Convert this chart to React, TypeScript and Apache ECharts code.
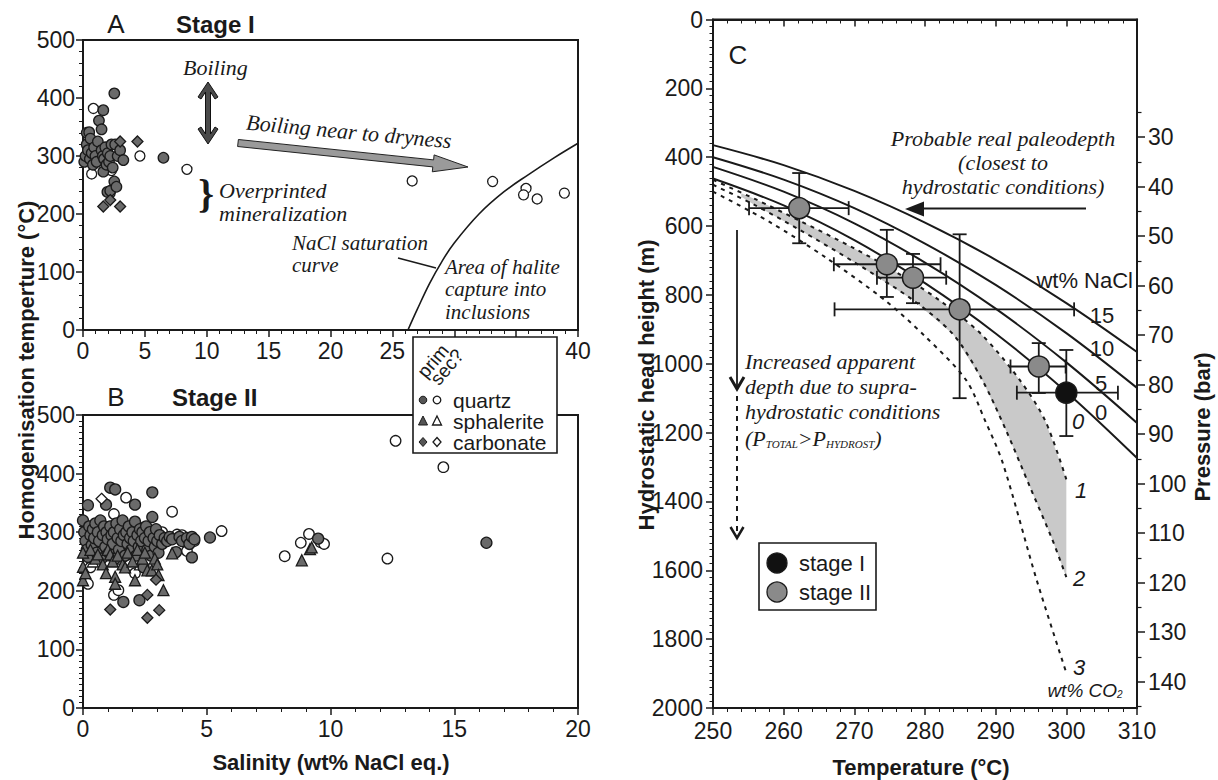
import React, { useEffect, useRef } from "react";
import * as echarts from "echarts";

// ---------- Panel A (stage I): [salinity wt% NaCl eq., Th °C] ----------
const A_QUARTZ_PRIM = [
  [0.1, 290], [0.2, 300], [0.3, 320], [0.3, 340], [0.4, 310], [0.5, 341], [0.55, 295], [0.6, 330],
  [0.7, 305], [0.8, 285], [0.9, 315], [1.0, 300], [1.1, 290], [1.2, 325], [1.29, 361], [1.5, 346],
  [1.5, 310], [1.6, 300], [1.64, 379], [1.64, 273], [1.7, 295], [1.8, 315], [1.9, 285], [1.97, 238],
  [2.0, 305], [2.1, 290], [2.2, 300], [2.2, 240], [2.3, 320], [2.4, 280], [2.53, 408], [2.53, 256],
  [2.6, 320], [2.7, 247], [2.8, 300], [3.0, 310], [3.26, 293], [6.5, 297],
];
const A_QUARTZ_SEC = [
  [0.84, 382], [0.7, 269], [1.2, 300], [2.3, 275], [2.2, 236], [4.6, 300], [8.4, 277],
  [26.6, 257], [33.1, 256], [35.8, 244], [35.6, 233], [36.7, 226], [38.9, 236],
];
const A_CARB_PRIM = [[3.0, 325], [4.4, 325], [1.64, 213], [2.2, 224], [3.0, 213]];
const A_SATURATION = [
  [26.26, 0], [27, 35], [28, 80], [29, 118], [30, 150], [32, 200], [34, 238], [36, 268], [38, 296], [40, 322],
];

// ---------- Panel B (stage II) ----------
const B_QUARTZ_PRIM = [
  [0.0, 320], [0.05, 300], [0.1, 285], [0.15, 270], [0.2, 346], [0.2, 258], [0.25, 310], [0.3, 295],
  [0.35, 278], [0.4, 305], [0.45, 290], [0.5, 315], [0.55, 265], [0.6, 300], [0.65, 285], [0.7, 320],
  [0.75, 255], [0.8, 295], [0.85, 310], [0.9, 275], [0.93, 347], [0.95, 300], [1.0, 288], [1.05, 265],
  [1.1, 376], [1.1, 310], [1.15, 295], [1.2, 280], [1.25, 300], [1.3, 373], [1.3, 255], [1.35, 315],
  [1.4, 290], [1.45, 270], [1.5, 305], [1.55, 285], [1.6, 320], [1.63, 181], [1.65, 295], [1.7, 260],
  [1.75, 300], [1.8, 280], [1.85, 310], [1.9, 290], [1.95, 270], [2.0, 300], [2.05, 285], [2.1, 347],
  [2.1, 318], [2.15, 260], [2.2, 295], [2.25, 275], [2.28, 184], [2.3, 305], [2.35, 285], [2.4, 300],
  [2.45, 240], [2.5, 290], [2.55, 310], [2.6, 270], [2.65, 285], [2.7, 300], [2.75, 260], [2.8, 368],
  [2.8, 326], [2.85, 290], [2.9, 275], [2.95, 305], [3.0, 285], [3.05, 265], [3.1, 295], [3.2, 280],
  [3.3, 290], [3.4, 285], [3.5, 292], [3.6, 288], [3.76, 266], [3.9, 292], [4.0, 285], [4.2, 290],
  [4.3, 280], [4.4, 257], [4.4, 292], [4.5, 288], [5.13, 291], [9.5, 289], [16.3, 282],
];
const B_QUARTZ_SEC = [
  [0.2, 212], [0.3, 240], [0.5, 300], [0.75, 280], [0.9, 250], [1.0, 260], [1.25, 331], [1.25, 193],
  [1.43, 201], [1.5, 275], [1.74, 359], [1.9, 245], [1.97, 238], [2.1, 230], [2.2, 310], [2.4, 265],
  [2.6, 300], [2.8, 280], [3.2, 300], [3.6, 335], [3.8, 296], [4.0, 295], [4.2, 268], [4.5, 285],
  [5.6, 302], [8.15, 259], [8.8, 282], [9.13, 297], [9.6, 283], [9.74, 280], [12.3, 255], [12.63, 456],
  [14.56, 411],
];
const B_SPH_PRIM = [
  [0.0, 241], [0.0, 218], [0.0, 265], [0.1, 230], [0.3, 270], [0.5, 255], [0.6, 262], [0.8, 245],
  [0.93, 230], [1.0, 270], [1.1, 262], [1.2, 250], [1.3, 224], [1.3, 212], [1.4, 260], [1.6, 245],
  [1.7, 240], [1.8, 265], [2.0, 250], [2.1, 218], [2.2, 270], [2.4, 255], [2.5, 265], [2.6, 235],
  [2.78, 235], [2.9, 255], [3.0, 245], [3.05, 227], [3.25, 201], [3.6, 264], [8.84, 252], [9.17, 271],
  [9.24, 274],
];
const B_SPH_SEC = [[0.4, 250], [1.5, 255], [2.3, 245]];
const B_CARB_PRIM = [[1.1, 168], [2.6, 154], [3.08, 167], [2.6, 193], [2.95, 219]];
const B_CARB_SEC = [[0.75, 357]];

// ---------- Panel C ----------
const C_TEMPS = [250, 260, 270, 280, 290, 300, 310];
const NACL_0 = [462, 540, 641, 766, 912, 1082, 1274];
const NACL_5 = [428, 500, 592, 706, 840, 996, 1172];
const NACL_10 = [400, 465, 548, 651, 771, 911, 1070];
const NACL_15 = [365, 423, 498, 590, 698, 824, 966];
const CO2_1 = [[250, 466], [256, 522], [262, 582], [270, 665], [276, 735], [282, 815], [288, 915], [293.4, 1047], [297, 1165], [300, 1336]];
const CO2_2 = [[250, 480], [256, 540], [262, 608], [270, 705], [278.3, 815], [284, 915], [288.1, 1047], [291.5, 1195], [294.9, 1360], [298, 1510], [300, 1620]];
const CO2_3 = [[250, 500], [258, 588], [266, 692], [274.3, 815], [280, 920], [285.8, 1047], [288.5, 1165], [291, 1288], [295.8, 1628], [300, 1898]];
const STAGE2 = [[262.2, 548], [274.6, 711], [278.3, 750], [284.9, 842], [296.1, 1008]];
const STAGE2_T_ERR = [[255.1, 269.2], [267.1, 282.2], [273.2, 283.0], [267.2, 301.1], [292.1, 299.9]];
const STAGE2_D_ERR = [[446, 650], [611, 806], [681, 824], [624, 1100], [940, 1085]];
const STAGE1 = [[300, 1084]];
const STAGE1_T_ERR = [[293.0, 307.3]];
const STAGE1_D_ERR = [[960, 1210]];
const PRESSURE_TICKS = [30, 40, 50, 60, 70, 80, 90, 100, 110, 120, 130, 140];
const PRESSURE_MINOR = [25, 35, 45, 55, 65, 75, 85, 95, 105, 115, 125, 135, 145];

const SANS = '"Liberation Sans", Arial, sans-serif';
const SERIF = '"Liberation Serif", "Times New Roman", serif';
const INK = "#1a1a1a";
const GRAY = "#6a6a6a";
const TICK_FONT = 23;

const plain = (v: number) => String(v);

function axis(extra: any) {
  const base: any = {
    type: "value",
    axisLine: { show: true, onZero: false, lineStyle: { color: INK, width: 2 } },
    axisTick: { show: true, length: 7, lineStyle: { color: INK, width: 1.5 } },
    minorTick: { show: true, splitNumber: 5, length: 4, lineStyle: { color: INK, width: 1 } },
    splitLine: { show: false },
    minorSplitLine: { show: false },
    axisLabel: { fontFamily: SANS, fontSize: TICK_FONT, color: INK, margin: 9, formatter: plain },
  };
  const out = { ...base, ...extra };
  if (extra.axisLabel) out.axisLabel = { ...base.axisLabel, ...extra.axisLabel };
  return out;
}

function scatter(name: string, data: number[][], grid: number, symbol: string, size: number, filled: boolean, z = 3) {
  return {
    name,
    type: "scatter",
    xAxisIndex: grid,
    yAxisIndex: grid,
    data,
    symbol,
    symbolSize: size,
    z,
    silent: true,
    itemStyle: { color: filled ? GRAY : "#ffffff", borderColor: INK, borderWidth: 1.3, opacity: 1 },
  };
}

function txt(text: string, x: number, y: number, o: any = {}) {
  return {
    type: "text",
    x,
    y,
    rotation: o.rot || 0,
    z: o.z ?? 50,
    style: {
      text,
      fill: INK,
      fontSize: o.size ?? 22,
      fontFamily: o.family ?? SANS,
      fontStyle: o.italic ? "italic" : "normal",
      fontWeight: o.bold ? "bold" : "normal",
      textAlign: o.align ?? "left",
      textVerticalAlign: "middle",
      lineHeight: o.lh,
      rich: o.rich,
    },
  };
}

function errorBars(name: string, pts: number[][], tErr: number[][], dErr: number[][]) {
  return {
    name,
    type: "custom",
    xAxisIndex: 2,
    yAxisIndex: 2,
    z: 4,
    silent: true,
    data: pts.map((p, i) => [p[0], p[1], tErr[i][0], tErr[i][1], dErr[i][0], dErr[i][1]]),
    encode: { x: 0, y: 1 },
    renderItem: (params: any, api: any) => {
      const l = api.coord([api.value(2), api.value(1)]);
      const r = api.coord([api.value(3), api.value(1)]);
      const t = api.coord([api.value(0), api.value(4)]);
      const b = api.coord([api.value(0), api.value(5)]);
      const cap = 7;
      const st = { stroke: INK, lineWidth: 1.8 };
      const ln = (x1: number, y1: number, x2: number, y2: number) => ({ type: "line", shape: { x1, y1, x2, y2 }, style: st });
      return {
        type: "group",
        children: [
          ln(l[0], l[1], r[0], r[1]),
          ln(l[0], l[1] - cap, l[0], l[1] + cap),
          ln(r[0], r[1] - cap, r[0], r[1] + cap),
          ln(t[0], t[1], b[0], b[1]),
          ln(t[0] - cap, t[1], t[0] + cap, t[1]),
          ln(b[0] - cap, b[1], b[0] + cap, b[1]),
        ],
      };
    },
  };
}

function buildOption() {
  const nacl = (vals: number[]) => ({
    type: "line",
    xAxisIndex: 2,
    yAxisIndex: 2,
    data: C_TEMPS.map((t, i) => [t, vals[i]]),
    smooth: 0.35,
    symbol: "none",
    z: 3,
    silent: true,
    lineStyle: { color: INK, width: 2 },
  });
  const co2 = (pts: number[][]) => ({
    type: "line",
    xAxisIndex: 2,
    yAxisIndex: 2,
    data: pts,
    smooth: 0.3,
    symbol: "none",
    z: 3,
    silent: true,
    lineStyle: { color: INK, width: 2, type: [4, 5] },
  });

  const bandUpper = CO2_1.filter((p) => p[0] >= 256);
  const bandLower = CO2_2.filter((p) => p[0] >= 256);

  const gridStyle = { show: true, borderColor: INK, borderWidth: 2, backgroundColor: "transparent" };
  const it = { italic: true, family: SERIF };

  const graphic: any[] = [
    // titles
    txt("A", 116, 24, { size: 26, align: "center" }),
    txt("Stage I", 176, 24, { size: 24, bold: true }),
    txt("B", 116, 397, { size: 26, align: "center" }),
    txt("Stage II", 172, 397, { size: 24, bold: true }),
    txt("C", 738, 55, { size: 26, align: "center" }),
    // axis names
    txt("Homogenisation temperture (°C)", 26, 370, { bold: true, align: "center", rot: Math.PI / 2 }),
    txt("Salinity (wt% NaCl eq.)", 331, 762, { bold: true, align: "center" }),
    txt("Hydrostatic head height (m)", 646, 385, { bold: true, align: "center", rot: Math.PI / 2 }),
    txt("Pressure (bar)", 1202, 427, { bold: true, align: "center", rot: Math.PI / 2 }),
    txt("Temperature (°C)", 921, 767, { bold: true, align: "center" }),
    // panel A annotations
    txt("Boiling", 183, 67, it),
    {
      type: "polygon",
      z: 40,
      shape: {
        points: [
          [208, 82], [218, 97], [215, 99], [210.5, 92], [210.5, 134], [215, 127], [218, 129], [208, 144],
          [198, 129], [201, 127], [205.5, 134], [205.5, 92], [201, 99], [198, 97],
        ],
      },
      style: { fill: "#4a4a4a", stroke: "#111", lineWidth: 1 },
    },
    txt("Boiling near to dryness", 349, 131.5, { ...it, align: "center", rot: -0.091 }),
    {
      type: "polygon",
      z: 40,
      shape: {
        points: [
          [238.4, 139.5], [433.6, 159.9], [434.1, 154.9], [468, 167], [432.3, 171.8], [432.8, 166.9], [237.6, 146.5],
        ],
      },
      style: { fill: "#9a9a9a", stroke: "#222", lineWidth: 1 },
    },
    txt("}", 206, 193, { family: SERIF, size: 40, align: "center", bold: true }),
    txt("Overprinted\nmineralization", 219, 201.5, { ...it, lh: 23 }),
    txt("NaCl saturation\ncurve", 292, 254, { ...it, size: 21, lh: 22.5 }),
    { type: "line", z: 40, shape: { x1: 398, y1: 258, x2: 436, y2: 268 }, style: { stroke: INK, lineWidth: 1.5 } },
    txt("Area of halite\ncapture into\ninclusions", 445, 289, { ...it, size: 21, lh: 22.5 }),
    // legend A/B
    { type: "rect", z: 100, shape: { x: 413, y: 337, width: 144, height: 116 }, style: { fill: "#ffffff", stroke: INK, lineWidth: 1.6 } },
    txt("prim", 433, 361, { size: 19, rot: (50 * Math.PI) / 180, align: "center", z: 101 }),
    txt("sec?", 447, 367, { size: 19, rot: (50 * Math.PI) / 180, align: "center", z: 101 }),
    { type: "circle", z: 101, shape: { cx: 423, cy: 400, r: 3.8 }, style: { fill: "#555", stroke: INK, lineWidth: 1 } },
    { type: "circle", z: 101, shape: { cx: 437, cy: 400, r: 3.8 }, style: { fill: "#fff", stroke: INK, lineWidth: 1.3 } },
    { type: "polygon", z: 101, shape: { points: [[423, 416], [427.5, 425], [418.5, 425]] }, style: { fill: "#555", stroke: INK, lineWidth: 1 } },
    { type: "polygon", z: 101, shape: { points: [[437, 416], [441.5, 425], [432.5, 425]] }, style: { fill: "#fff", stroke: INK, lineWidth: 1.3 } },
    { type: "polygon", z: 101, shape: { points: [[423, 437.5], [427, 442], [423, 446.5], [419, 442]] }, style: { fill: "#555", stroke: INK, lineWidth: 1 } },
    { type: "polygon", z: 101, shape: { points: [[437, 437.5], [441, 442], [437, 446.5], [433, 442]] }, style: { fill: "#fff", stroke: INK, lineWidth: 1.3 } },
    txt("quartz", 453, 400, { z: 101, size: 21, lh: 20 }),
    txt("sphalerite", 453, 421, { z: 101, size: 21, lh: 20 }),
    txt("carbonate", 453, 442, { z: 101, size: 21, lh: 20 }),
    // panel C annotations
    txt("Probable real paleodepth\n(closest to\nhydrostatic conditions)", 1003, 162, { ...it, align: "center", lh: 24 }),
    { type: "line", z: 40, shape: { x1: 922, y1: 208.5, x2: 1086, y2: 208.5 }, style: { stroke: INK, lineWidth: 1.8 } },
    { type: "polygon", z: 40, shape: { points: [[905, 209], [924, 201.5], [924, 216.5]] }, style: { fill: INK } },
    txt("wt% NaCl", 1133, 280, { align: "right" }),
    txt("15", 1102, 315, { align: "center" }),
    txt("10", 1102, 348, { align: "center" }),
    txt("5", 1101, 383, { align: "center" }),
    txt("0", 1101, 412, { align: "center" }),
    txt("0", 1078, 421, { align: "center", italic: true }),
    txt("1", 1081, 490, { align: "center", italic: true }),
    txt("2", 1079, 578, { align: "center", italic: true }),
    txt("3", 1079, 667, { align: "center", italic: true }),
    txt("{a|wt% CO}{s|2}", 1085, 690, {
      align: "center",
      italic: true,
      size: 19,
      rich: {
        a: { fontSize: 19, fontFamily: SANS, fontStyle: "italic", fill: INK },
        s: { fontSize: 10, fontFamily: SANS, fontStyle: "italic", fill: INK, verticalAlign: "bottom" },
      },
    }),
    txt("Increased apparent\ndepth due to supra-\nhydrostatic conditions", 745, 386, { ...it, lh: 25 }),
    txt("{a|(P}{s|TOTAL}{a|>P}{s|HYDROST}{a|)}", 745, 438, {
      ...it,
      rich: {
        a: { fontSize: 22, fontFamily: SERIF, fontStyle: "italic", fill: INK },
        s: { fontSize: 11, fontFamily: SERIF, fontStyle: "italic", fill: INK, verticalAlign: "bottom" },
      },
    }),
    { type: "line", z: 40, shape: { x1: 737, y1: 230, x2: 737, y2: 386 }, style: { stroke: INK, lineWidth: 1.8 } },
    { type: "polyline", z: 40, shape: { points: [[730, 377], [737, 389], [744, 377]] }, style: { stroke: INK, lineWidth: 3, fill: null } },
    { type: "line", z: 40, shape: { x1: 737, y1: 396, x2: 737, y2: 533 }, style: { stroke: INK, lineWidth: 2, lineDash: [5, 5] } },
    { type: "polyline", z: 40, shape: { points: [[730.5, 527], [737, 538], [743.5, 527]] }, style: { stroke: INK, lineWidth: 2.5, fill: null } },
    // legend C
    { type: "rect", z: 60, shape: { x: 759, y: 543, width: 117, height: 67 }, style: { fill: "#ffffff", stroke: INK, lineWidth: 1.6 } },
    { type: "circle", z: 61, shape: { cx: 777, cy: 563, r: 10 }, style: { fill: "#111", stroke: INK, lineWidth: 1.3 } },
    { type: "circle", z: 61, shape: { cx: 777, cy: 592, r: 10 }, style: { fill: "#8a8a8a", stroke: INK, lineWidth: 1.3 } },
    txt("stage I", 799, 563, { z: 61 }),
    txt("stage II", 799, 592, { z: 61 }),
  ];

  return {
    animation: false,
    backgroundColor: "#ffffff",
    grid: [
      { left: 83, top: 40, width: 495, height: 290, ...gridStyle },
      { left: 83, top: 415, width: 495, height: 293, ...gridStyle },
      { left: 713, top: 19.5, width: 424, height: 688.5, ...gridStyle },
    ],
    xAxis: [
      axis({ gridIndex: 0, min: 0, max: 40, interval: 5 }),
      axis({ gridIndex: 1, min: 0, max: 20, interval: 5 }),
      axis({ gridIndex: 2, min: 250, max: 310, interval: 10, axisLabel: { margin: 11 } }),
      axis({
        gridIndex: 2, position: "top", min: 250, max: 310, interval: 10,
        axisLabel: { show: false },
        axisTick: { show: true, inside: true, length: 7, lineStyle: { color: INK, width: 1.5 } },
      }),
    ],
    yAxis: [
      axis({ gridIndex: 0, min: 0, max: 500, interval: 100, axisLabel: { margin: 8 } }),
      axis({
        gridIndex: 1, min: 0, max: 500, interval: 100,
        minorTick: { show: true, splitNumber: 10, length: 4, lineStyle: { color: INK, width: 1 } },
        axisLabel: { margin: 8 },
      }),
      axis({
        gridIndex: 2, min: 0, max: 2000, interval: 200, inverse: true,
        minorTick: { show: true, splitNumber: 10, length: 3.5, lineStyle: { color: INK, width: 1 } },
        axisLabel: { margin: 10 },
      }),
      {
        type: "value", gridIndex: 2, position: "right", inverse: true, min: 6.27, max: 145.31,
        axisLine: { show: true, onZero: false, lineStyle: { color: INK, width: 2 } },
        axisTick: { show: true, length: 8, customValues: PRESSURE_TICKS, lineStyle: { color: INK, width: 1.5 } },
        axisLabel: { show: true, customValues: PRESSURE_TICKS, fontFamily: SANS, fontSize: TICK_FONT, color: INK, margin: 11, formatter: plain },
        splitLine: { show: false },
      },
      {
        type: "value", gridIndex: 2, position: "right", inverse: true, min: 6.27, max: 145.31,
        axisLine: { show: false },
        axisTick: { show: true, length: 4.5, customValues: PRESSURE_MINOR, lineStyle: { color: INK, width: 1.2 } },
        axisLabel: { show: false },
        splitLine: { show: false },
      },
    ],
    series: [
      // Panel A
      {
        type: "line", xAxisIndex: 0, yAxisIndex: 0, data: A_SATURATION, smooth: 0.4, symbol: "none", z: 2, silent: true,
        lineStyle: { color: INK, width: 1.6 },
      },
      scatter("A quartz sec", A_QUARTZ_SEC, 0, "circle", 10, false),
      scatter("A quartz prim", A_QUARTZ_PRIM, 0, "circle", 10.5, true, 4),
      scatter("A carbonate prim", A_CARB_PRIM, 0, "diamond", 11, true, 4),
      // Panel B
      scatter("B quartz sec", B_QUARTZ_SEC, 1, "circle", 10.5, false),
      scatter("B sphalerite sec", B_SPH_SEC, 1, "triangle", 11, false),
      scatter("B quartz prim", B_QUARTZ_PRIM, 1, "circle", 11, true, 4),
      scatter("B sphalerite prim", B_SPH_PRIM, 1, "triangle", 11, true, 5),
      scatter("B carbonate prim", B_CARB_PRIM, 1, "diamond", 11, true, 5),
      scatter("B carbonate sec", B_CARB_SEC, 1, "diamond", 11, false, 5),
      // Panel C
      {
        type: "custom", xAxisIndex: 2, yAxisIndex: 2, z: 1, silent: true,
        data: [[275, 800]],
        encode: { x: 0, y: 1 },
        renderItem: (params: any, api: any) => {
          if (params.dataIndex !== 0) return null;
          const pts = [[254, 505], ...bandUpper, ...bandLower.slice().reverse(), [254, 515]].map((p) => api.coord(p));
          return { type: "polygon", shape: { points: pts }, style: { fill: "#c9c9c9" } };
        },
      },
      nacl(NACL_0),
      nacl(NACL_5),
      nacl(NACL_10),
      nacl(NACL_15),
      co2(CO2_1),
      co2(CO2_2),
      co2(CO2_3),
      errorBars("err II", STAGE2, STAGE2_T_ERR, STAGE2_D_ERR),
      errorBars("err I", STAGE1, STAGE1_T_ERR, STAGE1_D_ERR),
      {
        name: "stage II", type: "scatter", xAxisIndex: 2, yAxisIndex: 2, data: STAGE2, symbol: "circle", symbolSize: 21, z: 6, silent: true,
        itemStyle: { color: "#8a8a8a", borderColor: INK, borderWidth: 1.5, opacity: 1 },
      },
      {
        name: "stage I", type: "scatter", xAxisIndex: 2, yAxisIndex: 2, data: STAGE1, symbol: "circle", symbolSize: 21, z: 6, silent: true,
        itemStyle: { color: "#111111", borderColor: INK, borderWidth: 1.5, opacity: 1 },
      },
    ],
    graphic,
  };
}

export default function App() {
  const ref = useRef<HTMLDivElement>(null);
  useEffect(() => {
    if (!ref.current) return;
    const chart = echarts.init(ref.current, null, { renderer: "svg" });
    chart.setOption(buildOption() as any);
    return () => chart.dispose();
  }, []);
  return (
    <div
      ref={ref}
      style={{ position: "fixed", left: 0, top: 0, width: 1218, height: 780, background: "#ffffff" }}
    />
  );
}
